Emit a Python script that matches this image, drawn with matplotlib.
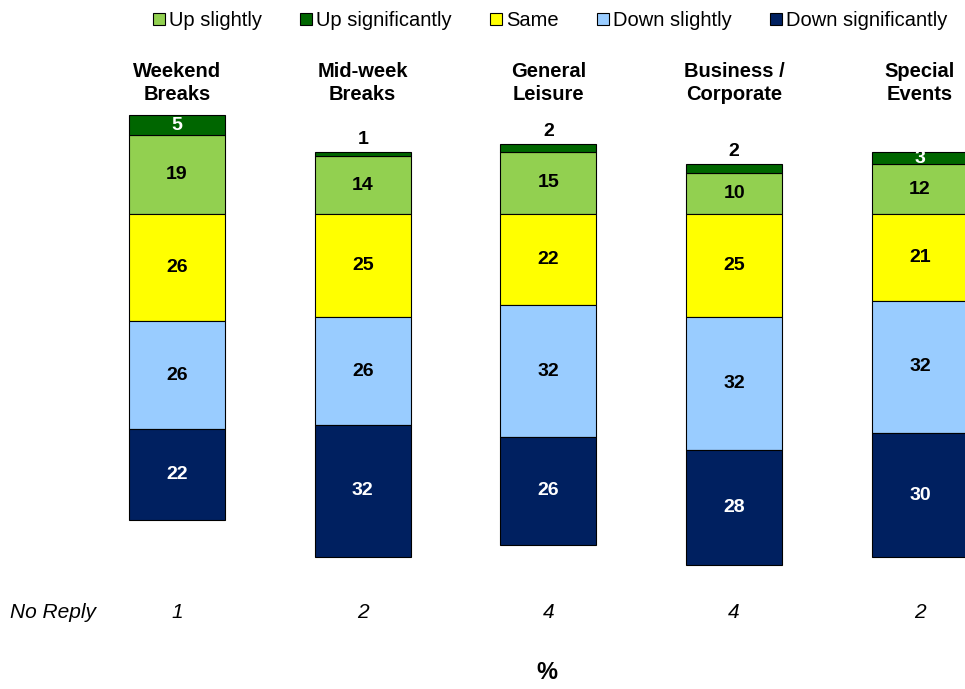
import numpy as np
import matplotlib.pyplot as plt
from matplotlib.patches import Patch

plt.rcParams['font.family'] = ['Liberation Sans', 'DejaVu Sans']

# Survey answers per segment (%)
categorias = ['Weekend\nBreaks', 'Mid-week\nBreaks', 'General\nLeisure',
              'Business /\nCorporate', 'Special\nEvents']
up_sig = [5, 1, 2, 2, 3]
up_slight = [19, 14, 15, 10, 12]
same = [26, 25, 22, 25, 21]
down_slight = [26, 26, 32, 32, 32]
down_sig = [22, 32, 26, 28, 30]
no_reply = [1, 2, 4, 4, 2]

cores = {
    'Up slightly': '#92D050',
    'Up significantly': '#006600',
    'Same': '#FFFF00',
    'Down slightly': '#99CCFF',
    'Down significantly': '#002060',
}

fig = plt.figure(figsize=(9.65, 6.89), dpi=100)
ax = fig.add_axes([0, 0, 1, 1])
ax.set_xlim(-0.953, 4.243)
ax.set_ylim(-114.9, 51.75)
ax.axis('off')

x = np.arange(len(categorias))
w = 0.517
up_sig = np.array(up_sig)
up_slight = np.array(up_slight)
same = np.array(same)
down_slight = np.array(down_slight)
down_sig = np.array(down_sig)

# "Up" answers stack above zero, the rest hang below it
segmentos = [
    ('Up slightly', up_slight, np.zeros(len(x))),
    ('Up significantly', up_sig, up_slight),
    ('Same', same, -same),
    ('Down slightly', down_slight, -(same + down_slight)),
    ('Down significantly', down_sig, -(same + down_slight + down_sig)),
]

for nome, vals, base in segmentos:
    ax.bar(x, vals, bottom=base, width=w, color=cores[nome],
           edgecolor='black', linewidth=0.8)
    escuro = nome in ('Up significantly', 'Down significantly')
    for xi, v, b in zip(x, vals, base):
        if nome == 'Up significantly' and v < 3:
            # too thin to hold the number: write it above the bar
            ax.text(xi, b + v + 1.0, str(v), ha='center', va='bottom',
                    fontsize=14, fontweight='bold', color='black')
        else:
            ax.text(xi, b + v / 2, str(v), ha='center', va='center',
                    fontsize=14, fontweight='bold',
                    color='white' if escuro else 'black')

# segment titles
for xi, cat in zip(x, categorias):
    ax.text(xi, 31.7, cat, ha='center', va='center', fontsize=14.5,
            fontweight='bold', linespacing=1.3)

# "No Reply" row
ax.text(-0.9, -96.3, 'No Reply', ha='left', va='center', fontsize=15,
        style='italic')
for xi, v in zip(x, no_reply):
    ax.text(xi, -96.3, str(v), ha='center', va='center', fontsize=15,
            style='italic')

ax.text(1.99, -111.0, '%', ha='center', va='center', fontsize=17,
        fontweight='bold')

handles = [Patch(facecolor=c, edgecolor='black', linewidth=0.8, label=n)
           for n, c in cores.items()]
fig.legend(handles=handles, loc='center', bbox_to_anchor=(0.57, 0.97),
           ncol=5, frameon=False, fontsize=14.5, handlelength=0.6,
           handleheight=0.6, handletextpad=0.2, columnspacing=1.9)

fig.savefig('out.png', dpi=100)
